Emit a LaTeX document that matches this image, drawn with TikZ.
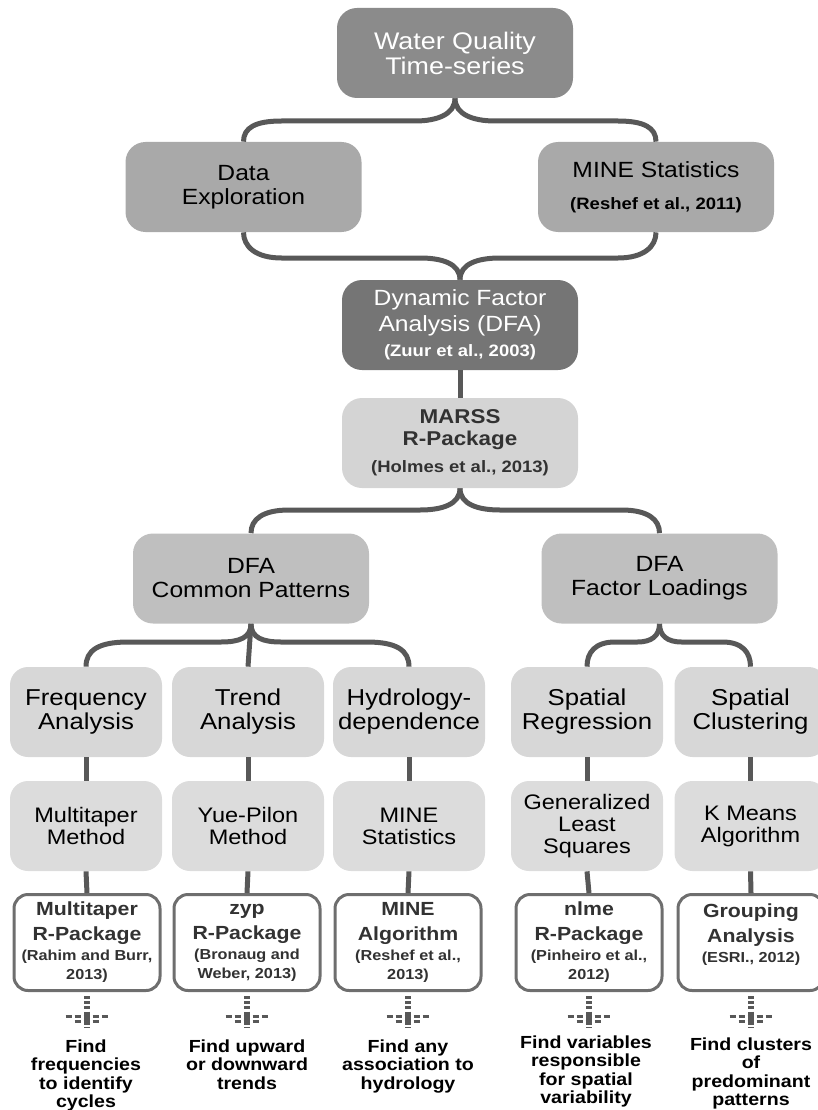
\documentclass[tikz,border=0pt]{standalone}
\usepackage{fontspec}
\setmainfont{Liberation Sans}[FakeStretch=1.12]
\usetikzlibrary{calc}
\definecolor{wqgray}{RGB}{139,139,139}
\definecolor{midgray}{RGB}{169,169,169}
\definecolor{dfagray}{RGB}{117,117,117}
\definecolor{marssgray}{RGB}{212,212,212}
\definecolor{branchgray}{RGB}{191,191,191}
\definecolor{taskgray}{RGB}{215,215,215}
\definecolor{methodgray}{RGB}{220,220,220}
\definecolor{linegray}{RGB}{88,88,88}
\definecolor{rimgray}{RGB}{110,110,110}
\definecolor{textgray}{RGB}{50,50,50}
\tikzset{every picture/.style={line width=0.75pt}}
\newcommand{\citesize}{\bfseries\fontsize{16.5}{19}\selectfont}
\newcommand{\refsmall}{\fontsize{14.5}{19}\selectfont}

\begin{document}
\begin{tikzpicture}[x=1pt,y=-1pt,
  box/.style={rounded corners=20pt, align=center, inner sep=0pt, minimum width=236pt, minimum height=90pt},
  topbox/.style={box, fill=wqgray, text=white, font=\fontsize{24}{25}\selectfont},
  sidebox/.style={box, fill=midgray, text=black, font=\fontsize{22}{23.5}\selectfont},
  dfabox/.style={box, fill=dfagray, text=white, font=\fontsize{22}{26}\selectfont},
  pkgbox/.style={box, fill=marssgray, text=textgray, font=\bfseries\fontsize{20}{22}\selectfont},
  branchbox/.style={box, fill=branchgray, text=black, font=\fontsize{22}{24}\selectfont},
  taskbox/.style={rounded corners=18pt, fill=taskgray, minimum width=152pt, minimum height=90pt, align=center, inner sep=0pt, font=\fontsize{23}{24}\selectfont},
  methodbox/.style={taskbox, fill=methodgray, font=\fontsize{21}{22}\selectfont},
  toolbox/.style={rounded corners=14pt, draw=rimgray, line width=3pt, fill=white, minimum width=146pt, minimum height=96pt, align=center, inner sep=0pt, text=textgray, font=\bfseries\fontsize{19}{25}\selectfont},
  goal/.style={anchor=north, align=center, inner sep=0pt, font=\bfseries\fontsize{17.5}{18.4}\selectfont},
  conn/.style={draw=linegray, line width=5pt},
  ticks/.style={draw=linegray, line width=6pt, dash pattern=on 3pt off 2.2pt}]
\useasboundingbox (0,0) rectangle (817,1110);

%top levels
\node[topbox] (wq) at (455,53) {Water Quality\\Time-series};
\node[sidebox] (de) at (243.5,187) {Data\\Exploration};
\node[sidebox] (mine) at (656,187) {MINE Statistics\\[9pt]{\citesize(Reshef et al., 2011)}};
\node[dfabox] (dfa) at (460,325) {Dynamic Factor\\Analysis (DFA)\\[-1pt]{\citesize(Zuur et al., 2003)}};
\node[pkgbox] (marss) at (460,443) {MARSS\\R-Package\\[5pt]{\citesize(Holmes et al., 2013)}};
\node[branchbox] (cp) at (251,578.5) {DFA\\Common Patterns};
\node[branchbox] (fl) at (659.5,578.5) {DFA\\Factor Loadings};

%analyses
\node[taskbox] (freq) at (86,712) {Frequency\\Analysis};
\node[taskbox] (trend) at (248,712) {Trend\\Analysis};
\node[taskbox] (hydro) at (409,712) {Hydrology-\\dependence};
\node[taskbox] (sreg) at (587,712) {Spatial\\Regression};
\node[taskbox] (sclu) at (750.5,712) {Spatial\\Clustering};

%methods
\node[methodbox] (mt) at (86,826) {Multitaper\\Method};
\node[methodbox] (yp) at (248,826) {Yue-Pilon\\Method};
\node[methodbox] (ms) at (409,826) {MINE\\Statistics};
\node[methodbox] (gls) at (587,826) {Generalized\\Least\\Squares};
\node[methodbox] (km) at (750.5,826) {K Means\\Algorithm};

%tools
\node[toolbox] (mtpkg) at (87,942.5) {Multitaper\\R-Package\\[-5pt]\refsmall(Rahim and Burr,\\[-6pt]\refsmall 2013)};
\node[toolbox] (zyp) at (247,942.5) {zyp\\R-Package\\[-5pt]\refsmall(Bronaug and\\[-6pt]\refsmall Weber, 2013)};
\node[toolbox] (minealg) at (408,942.5) {MINE\\Algorithm\\[-5pt]\refsmall(Reshef et al.,\\[-6pt]\refsmall 2013)};
\node[toolbox] (nlme) at (589,942.5) {nlme\\R-Package\\[-5pt]\refsmall(Pinheiro et al.,\\[-6pt]\refsmall 2012)};
\node[toolbox] (group) at (751,942.5) {Grouping\\Analysis\\[-5pt]\refsmall(ESRI., 2012)\\[-6pt]\mbox{}};

%goals
\node[goal] (g1) at (86,1039.5) {Find\\frequencies\\to identify\\cycles};
\node[goal] (g2) at (247,1039.5) {Find upward\\or downward\\trends};
\node[goal] (g3) at (408,1039.5) {Find any\\association to\\hydrology};
\node[goal] (g4) at (586,1035.5) {Find variables\\responsible\\for spatial\\variability};
\node[goal] (g5) at (751,1037.5) {Find clusters\\of\\predominant\\patterns};

%levels of the braces
\coordinate (l1) at (0,121);
\coordinate (l2) at (0,258);
\coordinate (l3) at (0,510);
\coordinate (l4) at (0,642);

\draw[conn] (wq.south) .. controls +(0,16) and +(22,0) .. ($(wq.south |- l1)+(-40,0)$) -- ($(de.north |- l1)+(38,0)$) .. controls +(-26,0) and +(0,-14) .. (de.north);
\draw[conn] (wq.south) .. controls +(0,16) and +(-22,0) .. ($(wq.south |- l1)+(40,0)$) -- ($(mine.north |- l1)+(-38,0)$) .. controls +(26,0) and +(0,-14) .. (mine.north);
\draw[conn] (de.south) .. controls +(0,14) and +(-26,0) .. ($(de.south |- l2)+(38,0)$) -- ($(dfa.north |- l2)+(-40,0)$) .. controls +(22,0) and +(0,-16) .. (dfa.north);
\draw[conn] (mine.south) .. controls +(0,14) and +(26,0) .. ($(mine.south |- l2)+(-38,0)$) -- ($(dfa.north |- l2)+(40,0)$) .. controls +(-22,0) and +(0,-16) .. (dfa.north);
\draw[conn] (dfa.south) -- (marss.north);
\draw[conn] (marss.south) .. controls +(0,16) and +(22,0) .. ($(marss.south |- l3)+(-40,0)$) -- ($(cp.north |- l3)+(38,0)$) .. controls +(-26,0) and +(0,-14) .. (cp.north);
\draw[conn] (marss.south) .. controls +(0,16) and +(-22,0) .. ($(marss.south |- l3)+(40,0)$) -- ($(fl.north |- l3)+(-38,0)$) .. controls +(26,0) and +(0,-14) .. (fl.north);

\draw[conn] (cp.south) .. controls +(0,14) and +(18,0) .. ($(cp.south |- l4)+(-30,0)$) -- ($(freq.north |- l4)+(42,0)$) .. controls +(-30,0) and +(0,-16) .. (freq.north);
\draw[conn] (cp.south) -- (trend.north);
\draw[conn] (cp.south) .. controls +(0,14) and +(-18,0) .. ($(cp.south |- l4)+(30,0)$) -- ($(hydro.north |- l4)+(-42,0)$) .. controls +(30,0) and +(0,-16) .. (hydro.north);
\draw[conn] (fl.south) .. controls +(0,12) and +(14,0) .. ($(fl.south |- l4)+(-22,0)$) -- ($(sreg.north |- l4)+(28,0)$) .. controls +(-20,0) and +(0,-14) .. (sreg.north);
\draw[conn] (fl.south) .. controls +(0,12) and +(-14,0) .. ($(fl.south |- l4)+(22,0)$) -- ($(sclu.north |- l4)+(-28,0)$) .. controls +(20,0) and +(0,-14) .. (sclu.north);

\draw[conn] (freq.south) -- (mt.north);
\draw[conn] (trend.south) -- (yp.north);
\draw[conn] (hydro.south) -- (ms.north);
\draw[conn] (sreg.south) -- (gls.north);
\draw[conn] (sclu.south) -- (km.north);
\draw[conn] (mt.south) -- (mtpkg.north);
\draw[conn] (yp.south) -- (zyp.north);
\draw[conn] (ms.south) -- (minealg.north);
\draw[conn] (gls.south) -- (nlme.north);
\draw[conn] (km.south) -- (group.north);

%dashed marks under the tools
\foreach \n in {mtpkg,zyp,minealg,nlme,group}{
  \draw[ticks] ($(\n.south)+(0,4)$) -- ++(0,32);
  \draw[ticks, line width=3pt, dash pattern=on 6pt off 3pt] ($(\n.south)+(-21.5,24.5)$) -- ++(42,0);
  \draw[ticks, line width=3pt, dash pattern=on 6pt off 3pt] ($(\n.south)+(-12.5,29.5)$) -- ++(25,0);
}
\end{tikzpicture}
\end{document}
